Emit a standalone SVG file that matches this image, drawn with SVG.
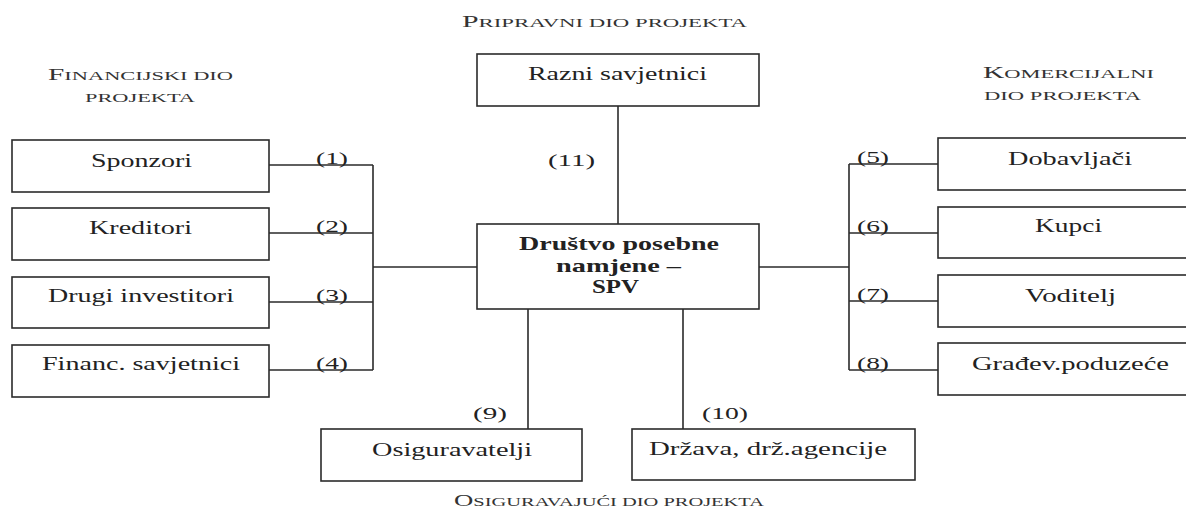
<svg xmlns="http://www.w3.org/2000/svg" width="1186" height="525" viewBox="0 0 1186 525">
  <style>
    .box { fill: #fff; stroke: #2b2b2b; stroke-width: 1.6; }
    .ln { fill: none; stroke: #2b2b2b; stroke-width: 1.6; }
    .t { font-family: "Liberation Serif", "Times New Roman", serif; font-size: 19px; fill: #222; }
    .b { font-weight: bold; }
    .n { font-family: "Liberation Serif", "Times New Roman", serif; font-size: 17px; fill: #222; }
    .h { font-family: "Liberation Serif", "Times New Roman", serif; font-size: 13px; fill: #333; }
    .cap { font-size: 17px; }
  </style>

  <rect width="1186" height="525" fill="#fff"/>

  <!-- section headings -->
  <g id="headings">
    <text class="h" x="462" y="27" textLength="285" lengthAdjust="spacingAndGlyphs"><tspan class="cap">P</tspan>RIPRAVNI DIO PROJEKTA</text>
    <text class="h" x="48" y="80" textLength="185" lengthAdjust="spacingAndGlyphs"><tspan class="cap">F</tspan>INANCIJSKI DIO</text>
    <text class="h" x="85" y="102" textLength="110" lengthAdjust="spacingAndGlyphs">PROJEKTA</text>
    <text class="h" x="983" y="78" textLength="171" lengthAdjust="spacingAndGlyphs"><tspan class="cap">K</tspan>OMERCIJALNI</text>
    <text class="h" x="984" y="100" textLength="157" lengthAdjust="spacingAndGlyphs">DIO PROJEKTA</text>
    <text class="h" x="454" y="506" textLength="310" lengthAdjust="spacingAndGlyphs"><tspan class="cap">O</tspan>SIGURAVAJUĆI DIO PROJEKTA</text>
  </g>

  <!-- connectors -->
  <g id="connectors" class="ln">
    <!-- advisers to SPV -->
    <path d="M618 106 V224"/>
    <!-- financial side bus -->
    <path d="M477 267 H373 M373 165 V370"/>
    <path d="M269 165 H373 M269 233 H373 M269 302 H373 M269 370 H373"/>
    <!-- commercial side bus -->
    <path d="M759 267 H849 M849 164 V370"/>
    <path d="M849 164 H938 M849 233 H938 M849 301 H938 M849 370 H938"/>
    <!-- insurance side -->
    <path d="M528 309 V429 M683 309 V429"/>
  </g>

  <!-- connector labels -->
  <g id="labels">
    <text class="n" x="316" y="164" textLength="32" lengthAdjust="spacingAndGlyphs">(1)</text>
    <text class="n" x="316" y="232" textLength="32" lengthAdjust="spacingAndGlyphs">(2)</text>
    <text class="n" x="316" y="301" textLength="32" lengthAdjust="spacingAndGlyphs">(3)</text>
    <text class="n" x="316" y="369" textLength="32" lengthAdjust="spacingAndGlyphs">(4)</text>
    <text class="n" x="857" y="163" textLength="32" lengthAdjust="spacingAndGlyphs">(5)</text>
    <text class="n" x="857" y="232" textLength="32" lengthAdjust="spacingAndGlyphs">(6)</text>
    <text class="n" x="857" y="300" textLength="32" lengthAdjust="spacingAndGlyphs">(7)</text>
    <text class="n" x="857" y="369" textLength="32" lengthAdjust="spacingAndGlyphs">(8)</text>
    <text class="n" x="473" y="419" textLength="34" lengthAdjust="spacingAndGlyphs">(9)</text>
    <text class="n" x="702" y="419" textLength="46" lengthAdjust="spacingAndGlyphs">(10)</text>
    <text class="n" x="548" y="166" textLength="47" lengthAdjust="spacingAndGlyphs">(11)</text>
  </g>

  <!-- financial participants -->
  <g id="sponzori">
    <rect class="box" x="12" y="140" width="257" height="52"/>
    <text class="t" x="91" y="167" textLength="101" lengthAdjust="spacingAndGlyphs">Sponzori</text>
  </g>
  <g id="kreditori">
    <rect class="box" x="12" y="208" width="257" height="52"/>
    <text class="t" x="89" y="234" textLength="103" lengthAdjust="spacingAndGlyphs">Kreditori</text>
  </g>
  <g id="drugi-investitori">
    <rect class="box" x="12" y="277" width="257" height="51"/>
    <text class="t" x="48" y="302" textLength="186" lengthAdjust="spacingAndGlyphs">Drugi investitori</text>
  </g>
  <g id="financ-savjetnici">
    <rect class="box" x="12" y="345" width="257" height="52"/>
    <text class="t" x="42" y="370" textLength="198" lengthAdjust="spacingAndGlyphs">Financ. savjetnici</text>
  </g>

  <!-- preparatory part -->
  <g id="razni-savjetnici">
    <rect class="box" x="477" y="54" width="282" height="52"/>
    <text class="t" x="528" y="80" textLength="179" lengthAdjust="spacingAndGlyphs">Razni savjetnici</text>
  </g>

  <!-- special purpose vehicle -->
  <g id="spv">
    <rect class="box" x="477" y="224" width="282" height="85"/>
    <text class="t b" x="519" y="250" textLength="200" lengthAdjust="spacingAndGlyphs">Društvo posebne</text>
    <text class="t b" x="556" y="272" textLength="125" lengthAdjust="spacingAndGlyphs">namjene –</text>
    <text class="t b" x="592" y="293" textLength="47" lengthAdjust="spacingAndGlyphs">SPV</text>
  </g>

  <!-- commercial participants -->
  <g id="dobavljaci">
    <rect class="box" x="938" y="138" width="262" height="52"/>
    <text class="t" x="1008" y="165" textLength="124" lengthAdjust="spacingAndGlyphs">Dobavljači</text>
  </g>
  <g id="kupci">
    <rect class="box" x="938" y="207" width="262" height="51"/>
    <text class="t" x="1035" y="232" textLength="67" lengthAdjust="spacingAndGlyphs">Kupci</text>
  </g>
  <g id="voditelj">
    <rect class="box" x="938" y="275" width="262" height="52"/>
    <text class="t" x="1025" y="302" textLength="91" lengthAdjust="spacingAndGlyphs">Voditelj</text>
  </g>
  <g id="gradjevinsko-poduzece">
    <rect class="box" x="938" y="343" width="262" height="52"/>
    <text class="t" x="972" y="370" textLength="197" lengthAdjust="spacingAndGlyphs">Građev.poduzeće</text>
  </g>

  <!-- insurance part -->
  <g id="osiguravatelji">
    <rect class="box" x="321" y="429" width="261" height="52"/>
    <text class="t" x="372" y="456" textLength="160" lengthAdjust="spacingAndGlyphs">Osiguravatelji</text>
  </g>
  <g id="drzava">
    <rect class="box" x="632" y="429" width="283" height="51"/>
    <text class="t" x="649" y="455" textLength="238" lengthAdjust="spacingAndGlyphs">Država, drž.agencije</text>
  </g>
</svg>
